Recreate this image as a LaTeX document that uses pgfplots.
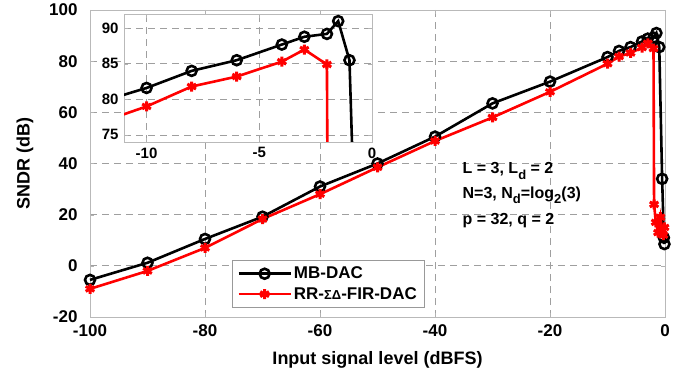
\documentclass[border=0pt]{standalone}
\usepackage{fontspec}
\setmainfont{Liberation Sans}
\usepackage{pgfplots}
\pgfplotsset{compat=1.18}
\newcommand\sub[1]{\raisebox{-0.32em}{\fontsize{13}{14}\selectfont #1}}
\begin{document}
\begin{tikzpicture}
\useasboundingbox (0pt,0pt) rectangle (687pt,375pt);
\begin{axis}[
  at={(90pt,58pt)}, anchor=south west,
  scale only axis, width=575pt, height=307pt,
  xmin=-100, xmax=0, ymin=-20, ymax=100,
  xtick={-100,-80,-60,-40,-20,0},
  ytick={-20,0,20,40,60,80,100},
  /pgf/number format/assume math mode=true,
  tick label style={font=\fontsize{17}{20}\selectfont\bfseries},
  yticklabel style={xshift=-9pt},
  xticklabel style={yshift=-4pt},
  axis line style={gray!55, line width=0.8pt},
  tick style={gray!60},
  major tick length=4pt,
  tick align=inside,
  grid=major,
  major grid style={gray!75, dash pattern=on 7pt off 5pt, line width=0.7pt},
  xlabel={Input signal level (dBFS)},
  ylabel={SNDR (dB)},
  label style={font=\fontsize{18}{21}\selectfont\bfseries},
  xlabel style={at={(axis description cs:0.5,-0.14)}, anchor=center},
  ylabel style={at={(axis description cs:-0.113,0.5)}, anchor=center},
  clip=false,
  legend style={at={(axis description cs:0.247,0.029)}, anchor=south west,
    draw=gray!80, line width=0.6pt, font=\fontsize{17}{20}\selectfont\bfseries,
    inner xsep=5pt, inner ysep=5pt, row sep=3pt},
  legend cell align=left,
  legend image code/.code={\draw[mark repeat=2,mark phase=2] plot coordinates {(0pt,0pt)(26pt,0pt)(52pt,0pt)};},
]
\addplot[black, line width=2.6pt, mark=o, mark size=5pt] coordinates {
(-100,-5.5)(-90,1.2)(-80,10.5)(-70,19.2)(-60,31)(-50,40)(-40,50.5)(-30,63.5)(-20,72)
(-10,81.6)(-8,84)(-6,85.5)(-4,87.7)(-3,88.8)(-2,89.2)(-1.5,91.0)(-1,85.5)(-0.5,34)(-0.2,11)(-0.1,8.5)};
\addlegendentry{MB-DAC}
\addplot[red, line width=2.6pt, mark=asterisk, mark size=5pt, mark options={line width=3pt}] coordinates {
(-100,-9)(-90,-2)(-80,7)(-70,18.3)(-60,28)(-50,38.5)(-40,48.8)(-30,58)(-20,68)
(-10,79)(-8,81.8)(-6,83.2)(-4,85.3)(-3,87)(-2,84.9)(-1.9,24)(-1.6,17)(-1.2,13)(-0.8,19)(-0.5,14)(-0.3,12)(-0.1,15)};
\addlegendentry{RR-{\fontsize{13}{14}\selectfont ΣΔ}-FIR-DAC}
\node[anchor=base west, font=\fontsize{16}{18}\selectfont\bfseries] at (axis cs:-35.8,35.9) {L = 3, L\sub{d} = 2};
\node[anchor=base west, font=\fontsize{16}{18}\selectfont\bfseries] at (axis cs:-35.8,26.3) {N=3, N\sub{d}=log\sub{2}(3)};
\node[anchor=base west, font=\fontsize{16}{18}\selectfont\bfseries] at (axis cs:-35.8,16.0) {p = 32, q = 2};
\end{axis}
\begin{axis}[
  at={(124pt,233pt)}, anchor=south west,
  scale only axis, width=248pt, height=128pt,
  xmin=-11, xmax=0, ymin=74, ymax=92,
  xtick={-10,-5,0}, ytick={75,80,85,90},
  /pgf/number format/assume math mode=true,
  tick label style={font=\fontsize{15}{17}\selectfont\bfseries},
  yticklabel style={xshift=-2pt},
  xticklabel style={yshift=-2pt},
  axis line style={gray!55, line width=0.8pt},
  tick style={gray!60},
  major tick length=4pt,
  tick align=inside,
  grid=major,
  major grid style={gray!75, dash pattern=on 7pt off 5pt, line width=0.7pt},
  axis background/.style={fill=white},
  clip mode=individual,
]
\addplot[black, line width=2.6pt, mark=o, mark size=5pt] coordinates {
(-20,72)(-10,81.6)(-8,84)(-6,85.5)(-4,87.7)(-3,88.8)(-2,89.2)(-1.5,91.0)(-1,85.5)(-0.5,34)};
\addplot[red, line width=2.6pt, mark=asterisk, mark size=5pt, mark options={line width=3pt}] coordinates {
(-20,68)(-10,79)(-8,81.8)(-6,83.2)(-4,85.3)(-3,87)(-2,84.9)(-1.9,24)};
\end{axis}
\end{tikzpicture}
\end{document}
